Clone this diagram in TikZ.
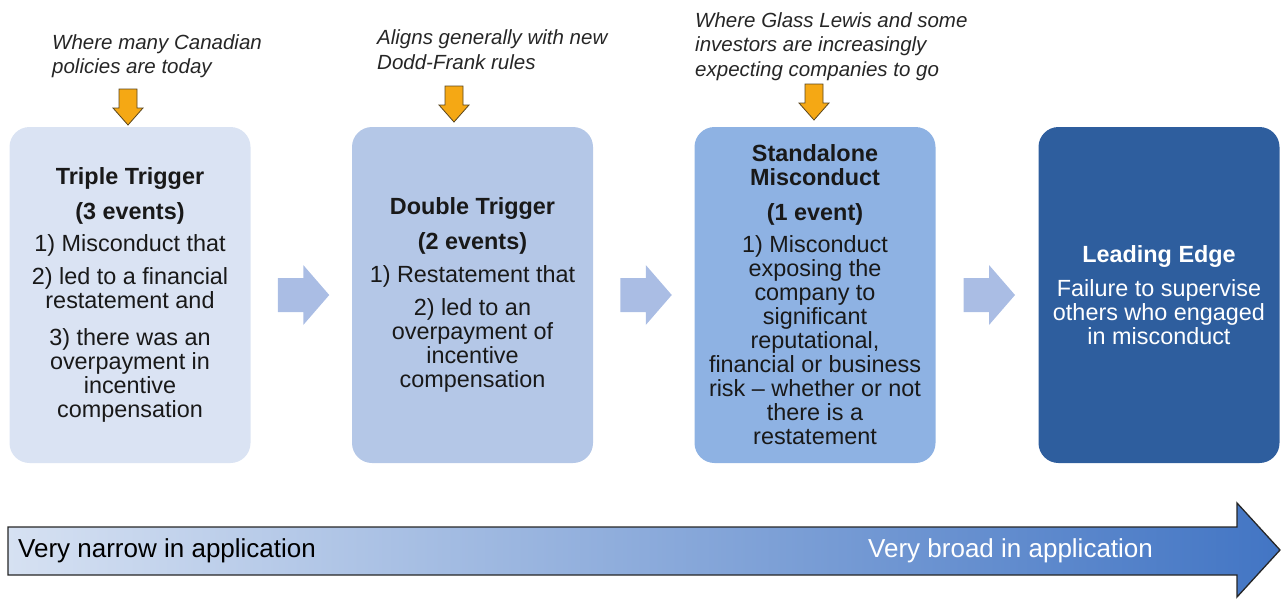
\documentclass[tikz,border=0pt]{standalone}
\usepackage{fontspec}
\setmainfont{Liberation Sans}
\usetikzlibrary{calc}
\definecolor{boxA}{RGB}{218,227,243}
\definecolor{boxB}{RGB}{180,199,231}
\definecolor{boxC}{RGB}{142,178,227}
\definecolor{boxD}{RGB}{46,94,158}
\definecolor{chev}{RGB}{170,189,228}
\definecolor{pointer}{RGB}{245,168,20}
\definecolor{pointerline}{RGB}{90,70,30}
\definecolor{scaleL}{RGB}{214,225,242}
\definecolor{scaleR}{RGB}{66,117,196}
\begin{document}
\begin{tikzpicture}[x=1pt,y=-1pt,
  stage/.style={rectangle, rounded corners=20pt, minimum width=241pt, minimum height=336pt,
    inner sep=0pt, align=center, font=\fontsize{23.4}{24}\selectfont, text=black!90},
  chevron/.style={fill=chev, draw=none},
  pointer/.style={fill=pointer, draw=pointerline, line width=0.8pt, line join=miter},
  note/.style={anchor=north west, inner sep=0pt, align=left,
    font=\fontsize{20.5}{24.5}\selectfont\itshape, text=black!85},
  scaletext/.style={anchor=west, inner sep=0pt, font=\fontsize{26}{28}\selectfont}]
\useasboundingbox (0,0) rectangle (1282,598);

% stage boxes
\node[stage, fill=boxA] (b1) at (130,295) {\textbf{Triple Trigger}\\[11pt]\textbf{(3 events)}\\[8pt]
  1) Misconduct that\\[9pt]2) led to a financial\\restatement and\\[13pt]
  3) there was an\\overpayment in\\incentive\\compensation};
\node[stage, fill=boxB] (b2) at (472.5,295) {\textbf{Double Trigger}\\[11pt]\textbf{(2 events)}\\[9pt]
  1) Restatement that\\[9pt]2) led to an\\overpayment of\\incentive\\compensation};
\node[stage, fill=boxC] (b3) at (815,295) {\textbf{Standalone}\\\textbf{Misconduct}\\[11pt]\textbf{(1 event)}\\[8pt]
  1) Misconduct\\exposing the\\company to\\significant\\reputational,\\financial or business\\
  risk -- whether or not\\there is a\\restatement};
\node[stage, fill=boxD, text=white] (b4) at (1159,295) {\textbf{Leading Edge}\\[10pt]
  Failure to supervise\\others who engaged\\in misconduct};

% block arrows between the stages
\coordinate (c1) at ($(b1.east)!0.5!(b2.west)+(2,0)$);
\coordinate (c2) at ($(b2.east)!0.5!(b3.west)+(2,0)$);
\coordinate (c3) at ($(b3.east)!0.5!(b4.west)+(2,0)$);
\foreach \c in {c1,c2,c3}
  \fill[chevron, shift={(\c)}] (-25.5,-17) -- (0,-17) -- (0,-30) -- (26,0) -- (0,30) -- (0,17) -- (-25.5,17) -- cycle;

% notes with their pointers
\node[note] (n1) at (52,34) {Where many Canadian\\policies are today};
\node[note] (n2) at (377,29.5) {Aligns generally with new\\Dodd-Frank rules};
\node[note] (n3) at (695,12) {Where Glass Lewis and some\\investors are increasingly\\expecting companies to go};
\coordinate (p1) at (128,125);
\coordinate (p2) at (454,122);
\coordinate (p3) at (814,120);
\foreach \p in {p1,p2,p3}
  \draw[pointer, shift={(\p)}] (-9,-36) -- (9,-36) -- (9,-17) -- (15,-17) -- (0,0) -- (-15,-17) -- (-9,-17) -- cycle;

% scale arrow along the bottom
\path[left color=scaleL, right color=scaleR, draw=black!85, line width=1.3pt, line join=miter]
  (8,527) -- (1237,527) -- (1237,503) -- (1280,550) -- (1237,597) -- (1237,575) -- (8,575) -- cycle;
\node[scaletext] (lo) at (18,551) {Very narrow in application};
\node[scaletext, text=white] (hi) at (868,551) {Very broad in application};
\end{tikzpicture}
\end{document}
